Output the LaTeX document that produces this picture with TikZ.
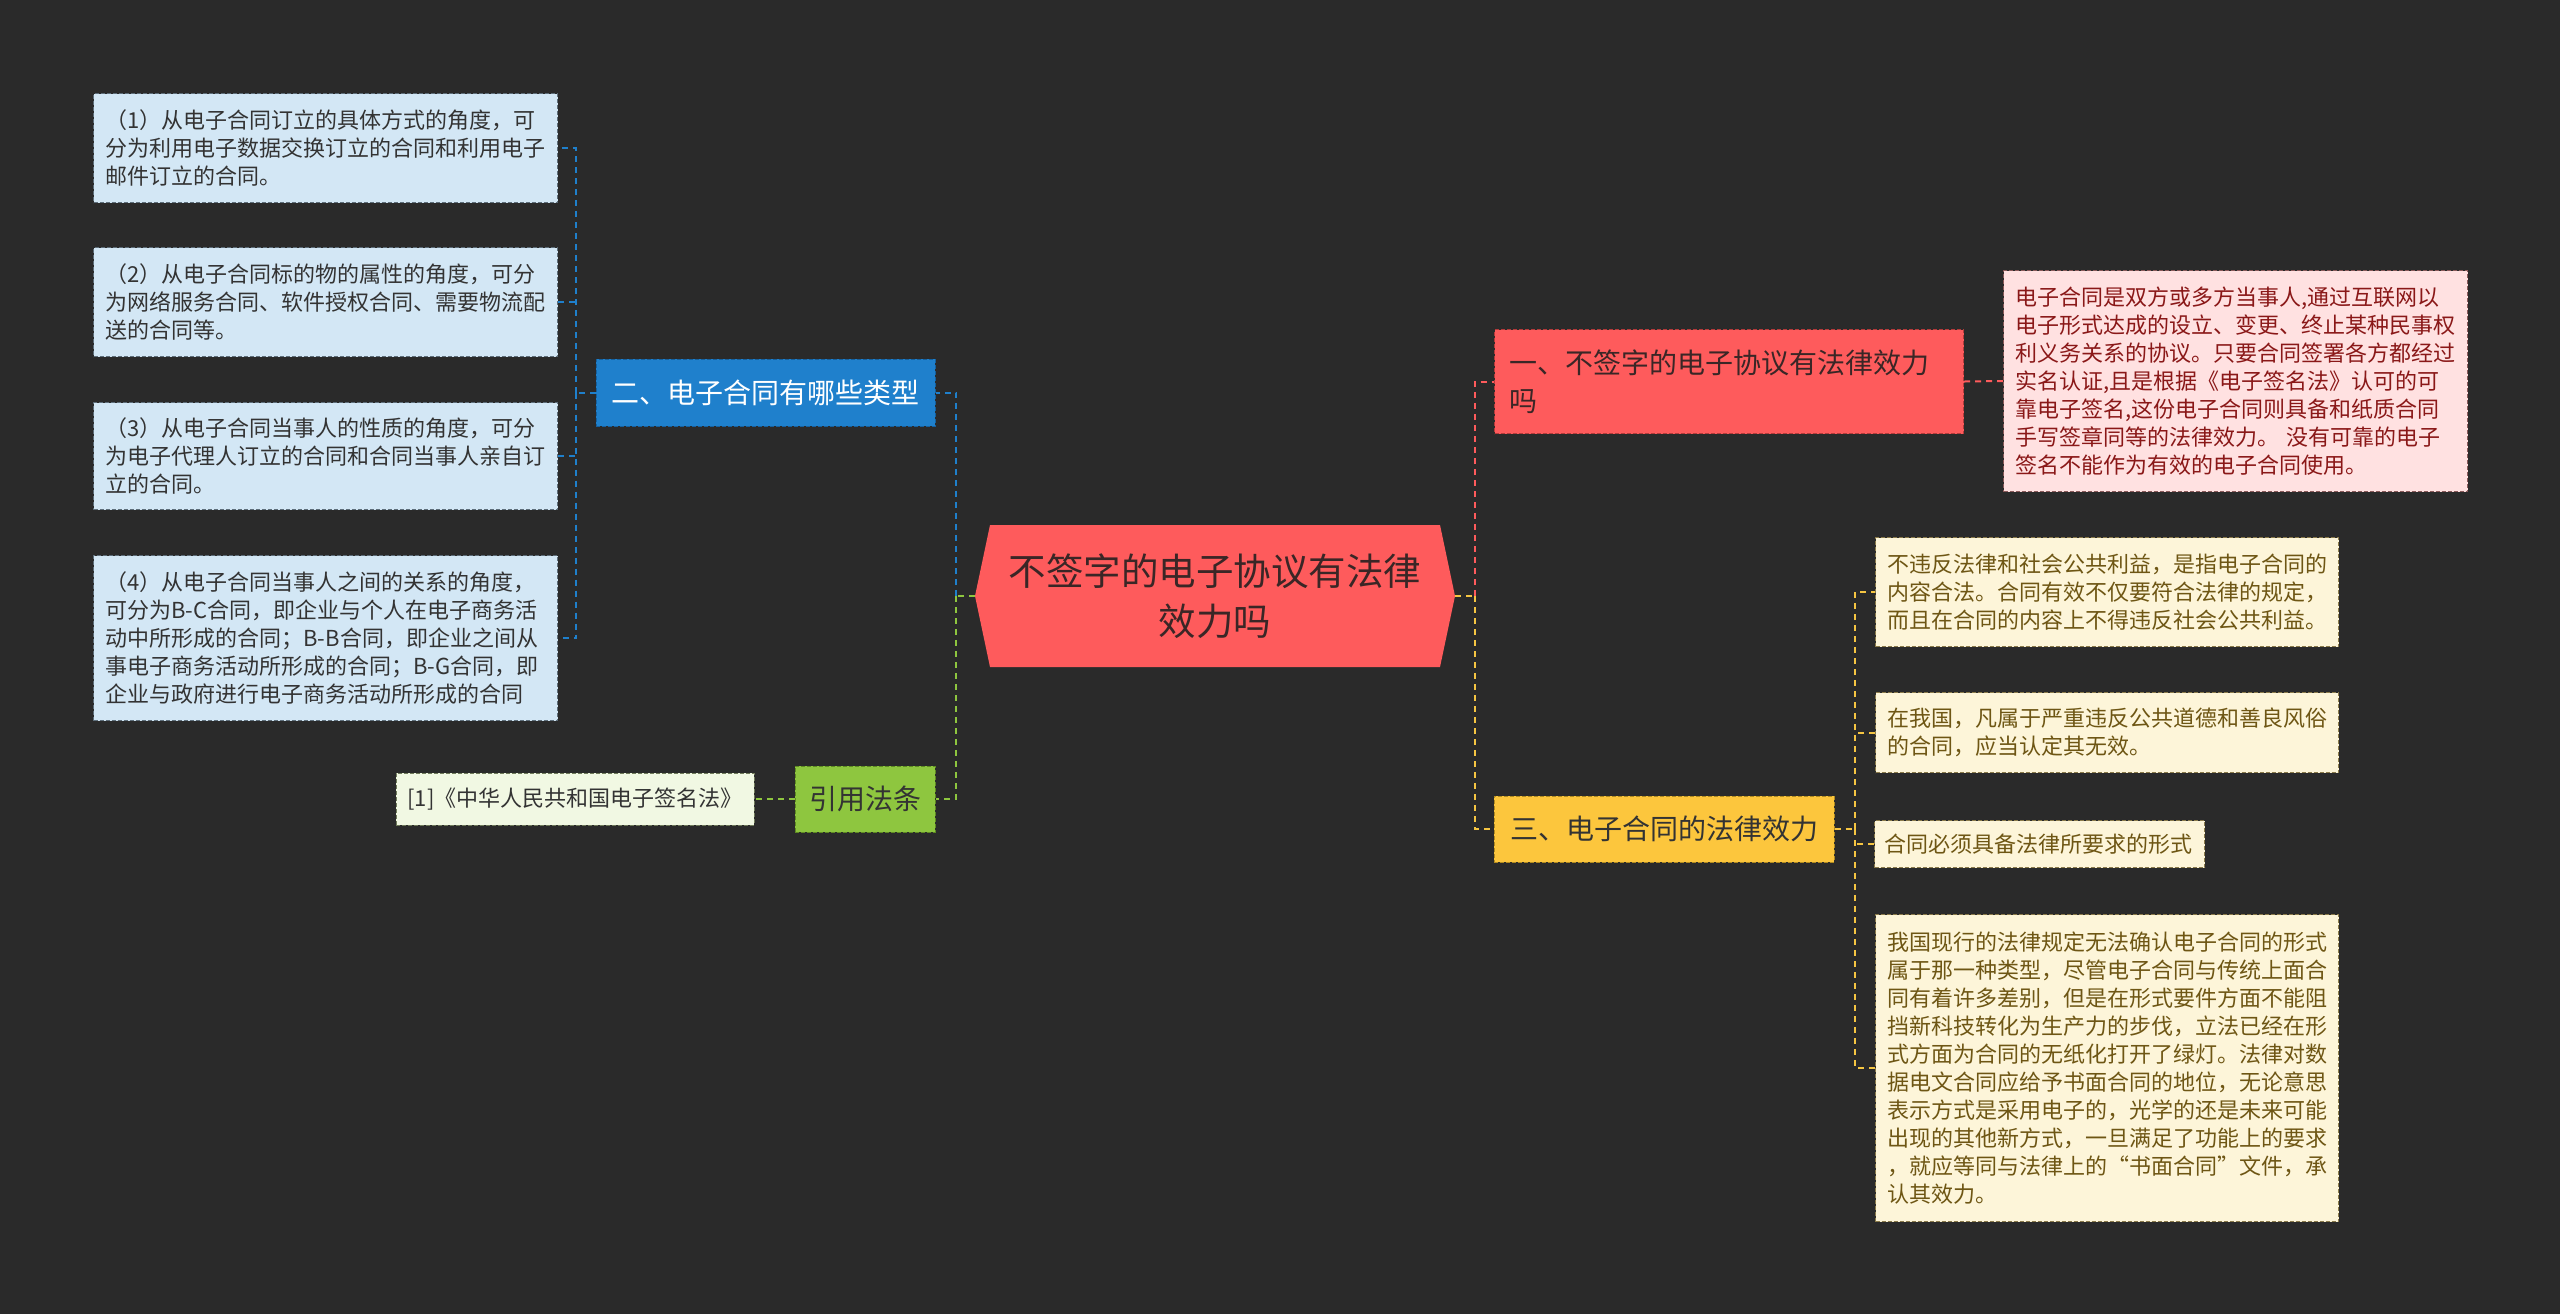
\documentclass[tikz,border=0pt]{standalone}
\usepackage{fontspec}
\setmainfont{Noto Sans CJK SC}
\usetikzlibrary{calc}
\definecolor{bg}{HTML}{2A2A2A}
\definecolor{lblue}{HTML}{D3E7F5}
\definecolor{lblueb}{HTML}{5E6E7A}
\definecolor{bluebr}{HTML}{1F80CC}
\definecolor{bluebrb}{HTML}{15609E}
\definecolor{greenbr}{HTML}{8EC63F}
\definecolor{greenbrb}{HTML}{5E8A22}
\definecolor{lgreen}{HTML}{F1F8E3}
\definecolor{lgreenb}{HTML}{6F7A5A}
\definecolor{rootred}{HTML}{FE5B5C}
\definecolor{redbrb}{HTML}{B43A3A}
\definecolor{pink}{HTML}{FFE1E1}
\definecolor{pinkb}{HTML}{8A5A5A}
\definecolor{pinktxt}{HTML}{8A1818}
\definecolor{yellowbr}{HTML}{FCC63D}
\definecolor{yellowbrb}{HTML}{B08A20}
\definecolor{cream}{HTML}{FDF5D9}
\definecolor{creamb}{HTML}{8A7A4A}
\definecolor{creamtxt}{HTML}{6E5614}
\definecolor{txtdark}{HTML}{333333}
\definecolor{roottxt}{HTML}{3A2626}
\definecolor{cblue}{HTML}{1F80CC}
\definecolor{cgreen}{HTML}{8EC63F}
\definecolor{cred}{HTML}{FE5B5C}
\definecolor{cyellow}{HTML}{F5C542}
\tikzset{
  conn/.style={line width=1pt, dash pattern=on 3pt off 2.5pt},
  bdash/.style={line width=0.5pt, dash pattern=on 2pt off 1pt},
  leafbox/.style={bdash, anchor=north west, align=left, inner xsep=6pt, inner ysep=0pt,
    font=\fontsize{11}{14}\selectfont},
  bluebox/.style={leafbox, fill=lblue, draw=lblueb, text=txtdark},
  pinkbox/.style={leafbox, fill=pink, draw=pinkb, text=pinktxt},
  creambox/.style={leafbox, fill=cream, draw=creamb, text=creamtxt},
  topic/.style={bdash, inner sep=0pt, font=\fontsize{14}{19}\selectfont},
}
\begin{document}
\begin{tikzpicture}[x=0.5pt,y=-0.5pt]
\fill[bg] (0,0) rectangle (2560,1314);
\useasboundingbox (0,0) rectangle (2560,1314);

% root hexagon
\fill[rootred] (990,525) -- (1440,525) -- (1455,596) -- (1440,667) -- (990,667) -- (975,596) -- cycle;
\node[inner sep=0pt, minimum width=225pt, minimum height=71pt, text width=212pt, align=center,
      font=\fontsize{18.75}{25}\selectfont, text=roottxt] (root) at (1215,596) {不签字的电子协议有法律\\效力吗};
\coordinate (rootL) at (975,596);
\coordinate (rootR) at (1455,596);

% left branch: types
\node[topic, fill=bluebr, draw=bluebrb, text=white, minimum width=169.5pt, minimum height=33.5pt] (t2) at (765.5,392.5) {二、电子合同有哪些类型};
\node[bluebox, text width=220pt, minimum height=54.5pt] (b1) at (93,93) {（1）从电子合同订立的具体方式的角度，可\\分为利用电子数据交换订立的合同和利用电子\\邮件订立的合同。};
\node[bluebox, text width=220pt, minimum height=54.5pt] (b2) at (93,247) {（2）从电子合同标的物的属性的角度，可分\\为网络服务合同、软件授权合同、需要物流配\\送的合同等。};
\node[bluebox, text width=220pt, minimum height=53.5pt] (b3) at (93,402) {（3）从电子合同当事人的性质的角度，可分\\为电子代理人订立的合同和合同当事人亲自订\\立的合同。};
\node[bluebox, text width=220pt, minimum height=82.5pt] (b4) at (93,555) {（4）从电子合同当事人之间的关系的角度，\\可分为B-C合同，即企业与个人在电子商务活\\动中所形成的合同；B-B合同，即企业之间从\\事电子商务活动所形成的合同；B-G合同，即\\企业与政府进行电子商务活动所形成的合同};

% left branch: law
\node[topic, fill=greenbr, draw=greenbrb, text=txtdark, minimum width=70pt, minimum height=33pt] (t4) at (865,799) {引用法条};
\node[bdash, fill=lgreen, draw=lgreenb, text=txtdark, inner sep=0pt, minimum width=179pt, minimum height=26pt,
      font=\fontsize{11}{14}\selectfont] (c1) at (575,799) {[1]《中华人民共和国电子签名法》};

% right branch 1
\node[topic, fill=rootred, draw=redbrb, text=roottxt, anchor=north west, align=left, inner xsep=7.5pt,
      text width=219.5pt, minimum height=52pt] (t1) at (1494,329) {一、不签字的电子协议有法律效力\\吗};
\node[pinkbox, text width=220pt, minimum height=110.5pt] (p1) at (2003,270) {电子合同是双方或多方当事人,通过互联网以\\电子形式达成的设立、变更、终止某种民事权\\利义务关系的协议。只要合同签署各方都经过\\实名认证,且是根据《电子签名法》认可的可\\靠电子签名,这份电子合同则具备和纸质合同\\手写签章同等的法律效力。 没有可靠的电子\\签名不能作为有效的电子合同使用。};

% right branch 3
\node[topic, fill=yellowbr, draw=yellowbrb, text=txtdark, minimum width=170pt, minimum height=33pt] (t3) at (1664,829) {三、电子合同的法律效力};
\node[creambox, text width=219.5pt, minimum height=54.5pt] (cA) at (1875,537) {不违反法律和社会公共利益，是指电子合同的\\内容合法。合同有效不仅要符合法律的规定，\\而且在合同的内容上不得违反社会公共利益。};
\node[creambox, text width=219.5pt, minimum height=40pt] (cB) at (1875,692) {在我国，凡属于严重违反公共道德和善良风俗\\的合同，应当认定其无效。};
\node[creambox, inner xsep=5pt, text width=155pt, minimum height=23.5pt] (cC) at (1874,820) {合同必须具备法律所要求的形式};
\node[creambox, text width=219.5pt, minimum height=153.5pt] (cD) at (1875,914) {我国现行的法律规定无法确认电子合同的形式\\属于那一种类型，尽管电子合同与传统上面合\\同有着许多差别，但是在形式要件方面不能阻\\挡新科技转化为生产力的步伐，立法已经在形\\式方面为合同的无纸化打开了绿灯。法律对数\\据电文合同应给予书面合同的地位，无论意思\\表示方式是采用电子的，光学的还是未来可能\\出现的其他新方式，一旦满足了功能上的要求\\，就应等同与法律上的“书面合同”文件，承\\认其效力。};

% connectors left
\coordinate (jL) at (576,392.5);
\draw[conn, cblue] (t2.west) -- (jL);
\draw[conn, cblue] (jL) |- (b1.east);
\draw[conn, cblue] (jL) |- (b4.east);
\draw[conn, cblue] (b2.east) -- (b2.east -| jL);
\draw[conn, cblue] (b3.east) -- (b3.east -| jL);

\coordinate (jC) at (956,596);
\draw[conn, cgreen] (rootL) -- (jC);
\draw[conn, cblue] (jC) |- (t2.east);
\draw[conn, cgreen] (jC) |- (t4.east);
\draw[conn, cgreen] (t4.west) -- (c1.east);

% connectors right
\coordinate (jR0) at (1475,596);
\draw[conn, cyellow] (rootR) -- (jR0);
\draw[conn, cred] (jR0) |- (t1.west);
\draw[conn, cyellow] (jR0) |- (t3.west);
\draw[conn, cred] (t1.east) -- (p1.west);

\coordinate (jR) at (1855,829);
\draw[conn, cyellow] (t3.east) -- (jR);
\draw[conn, cyellow] (jR) |- (cA.west);
\draw[conn, cyellow] (jR) |- (cD.west);
\draw[conn, cyellow] (cB.west) -- (cB.west -| jR);
\draw[conn, cyellow] (cC.west) -- (cC.west -| jR);
\end{tikzpicture}
\end{document}
